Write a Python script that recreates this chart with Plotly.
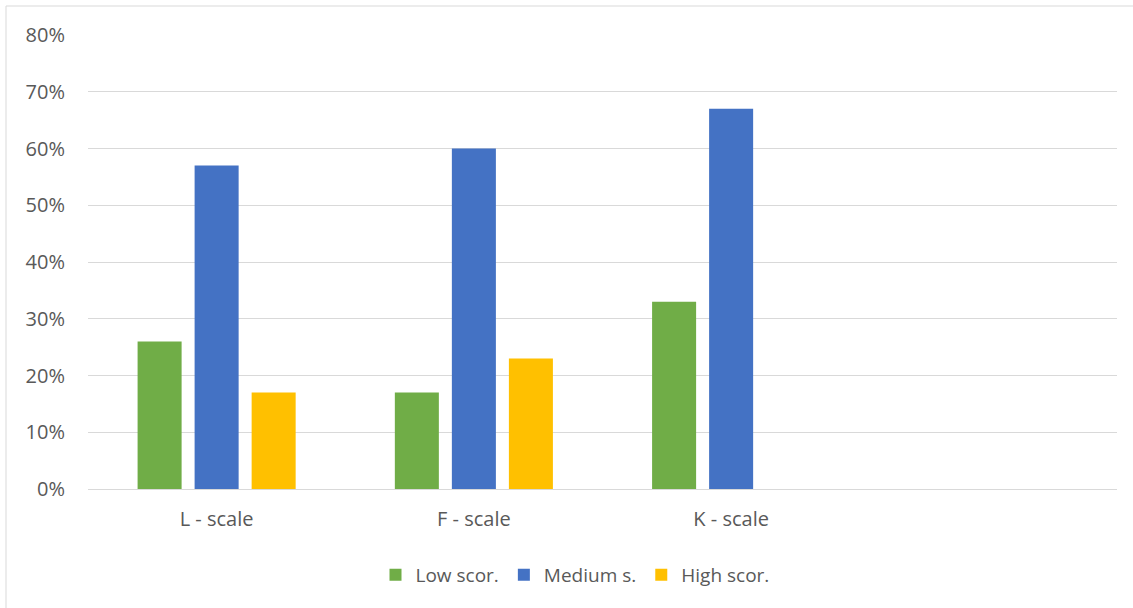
import plotly.graph_objects as go

categories = ["L - scale", "F - scale", "K - scale", " "]
low = [0.26, 0.17, 0.33, None]
medium = [0.57, 0.60, 0.67, None]
high = [0.17, 0.23, None, None]
series_names = ["Low scor.", "Medium s.", "High scor."]
colors = ["#70AD47", "#4472C4", "#FFC000"]
yticks = [0, 0.1, 0.2, 0.3, 0.4, 0.5, 0.6, 0.7, 0.8]

W, H = 1133, 608
L, R, T, B = 88, 16, 35, 119
pw, ph = W - L - R, H - T - B

fig = go.Figure()
for name, vals, c in zip(series_names, [low, medium, high], colors):
    fig.add_trace(go.Bar(x=categories, y=vals, name=name, marker_color=c,
                         marker_line_width=0))

font = dict(family="Open Sans, Liberation Sans, sans-serif", size=20, color="#595959")

fig.update_layout(
    width=W, height=H,
    margin=dict(l=L, r=R, t=T, b=B),
    paper_bgcolor="white", plot_bgcolor="white",
    barmode="group", bargap=0.335, bargroupgap=0.228,
    font=font,
    showlegend=True,
    legend=dict(orientation="h", x=(575 - L) / pw, xanchor="center",
                y=-(575 - (H - B)) / ph, yanchor="middle",
                font=dict(family=font["family"], size=19, color="#595959"),
                itemwidth=30, traceorder="normal"),
    xaxis=dict(type="category", categoryorder="array", categoryarray=categories,
               showgrid=False, showline=False, zeroline=False,
               ticks="outside", ticklen=12, tickcolor="rgba(0,0,0,0)",
               tickfont=font),
    yaxis=dict(range=[0, 0.8], tickvals=yticks, tickformat=".0%",
               showgrid=True, gridcolor="#D9D9D9", gridwidth=1,
               zeroline=True, zerolinecolor="#D9D9D9", zerolinewidth=1,
               showline=False, ticks="outside", ticklen=18,
               tickcolor="rgba(0,0,0,0)", tickfont=font),
    shapes=[dict(type="rect", xref="paper", yref="paper",
                 x0=(6 - L) / pw, x1=(W + 10 - L) / pw,
                 y0=-(H + 10 - (H - B)) / ph, y1=((H - B) - 6) / ph,
                 line=dict(color="#D9D9D9", width=1), layer="below")],
)

fig.write_html("out.html")
